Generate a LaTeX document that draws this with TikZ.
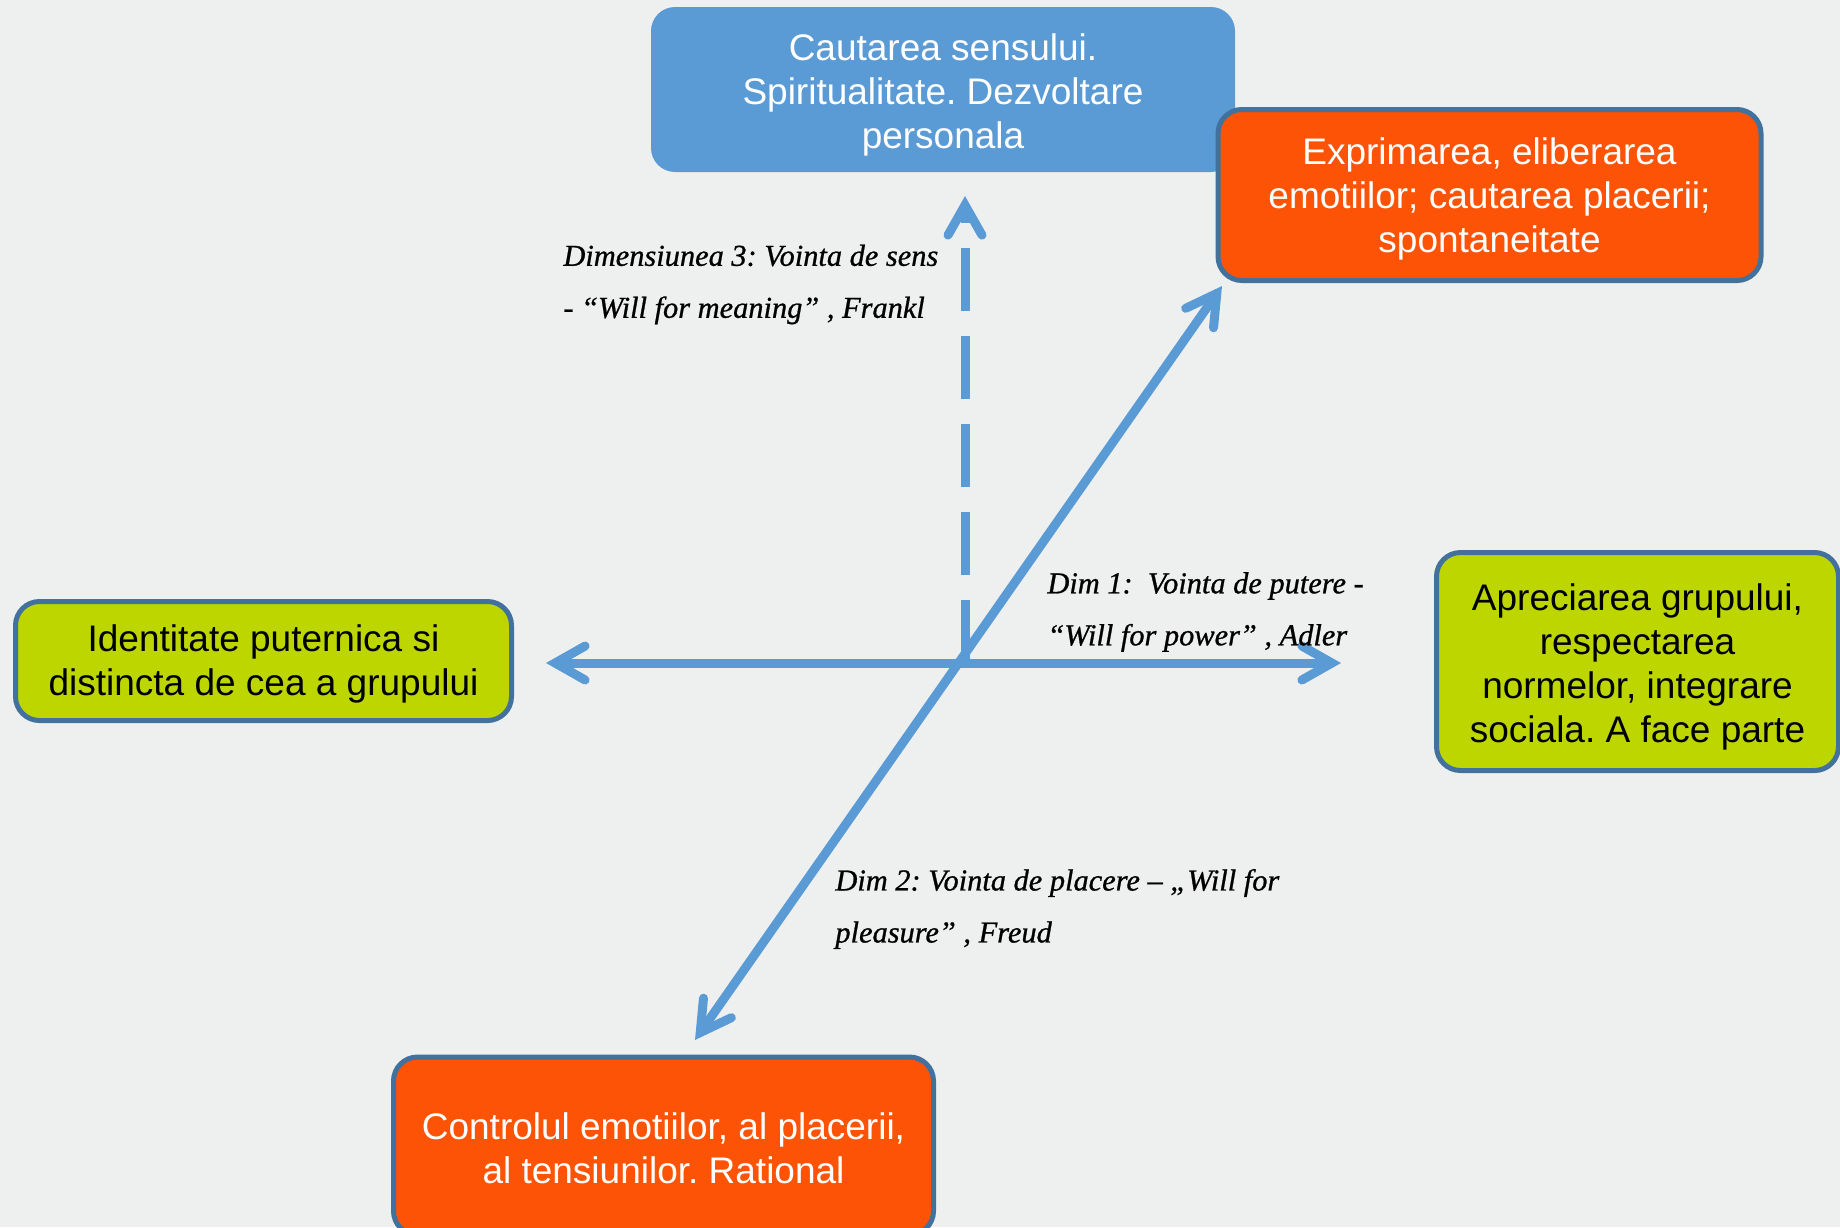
\documentclass[tikz,border=0pt]{standalone}
\usepackage{fontspec}
\setmainfont{Liberation Sans}
\newfontfamily\lblfont[FakeBold=0.8]{Liberation Serif}
\usetikzlibrary{arrows.meta}
\definecolor{bg}{HTML}{EEF0EF}
\definecolor{axisblue}{HTML}{5B9BD5}
\definecolor{boxblue}{HTML}{5B9BD5}
\definecolor{boxorange}{HTML}{FC5306}
\definecolor{boxgreen}{HTML}{BED600}
\definecolor{edgeblue}{HTML}{41719C}
\frenchspacing
\begin{document}
\begin{tikzpicture}[x=0.5pt,y=-0.5pt,
  box/.style={rounded corners=12pt, inner sep=0pt},
  orangebox/.style={box, fill=boxorange, draw=edgeblue, line width=2.5pt},
  greenbox/.style={box, fill=boxgreen, draw=edgeblue, line width=2.5pt},
  bluebox/.style={box, fill=boxblue},
  boxtext/.style={align=center, inner sep=0pt, font=\frenchspacing\fontsize{18.5}{22}\selectfont},
  whitetext/.style={boxtext, text=white},
  blacktext/.style={boxtext, text=black},
  axisline/.style={draw=axisblue, line width=4.5pt},
  tip/.tip={Straight Barb[length=15pt,width=17pt,line cap=round,line join=miter]},
  dashaxis/.style={axisline, dash pattern=on 31.5pt off 12.5pt},
  lbl/.style={align=left, anchor=west, inner sep=0pt, font=\frenchspacing\lblfont\itshape\fontsize{15.2}{26}\selectfont}
]
\fill[bg] (0,0) rectangle (1840,1227);
\useasboundingbox (0,0) rectangle (1840,1227);
\clip (0,0) rectangle (1840,1227);

% boxes
\node[bluebox, minimum width=292pt, minimum height=82.5pt] (meaning) at (943,89.5) {};
\node[orangebox, minimum width=271.5pt, minimum height=85.5pt] (express) at (1489.5,195) {};
\node[greenbox, minimum width=201pt, minimum height=109pt] (group) at (1637.5,661.5) {};
\node[greenbox, minimum width=248pt, minimum height=59.5pt] (identity) at (263.5,661) {};
\node[orangebox, minimum width=270pt, minimum height=89pt] (control) at (663.5,1146) {};

% box texts
\node[whitetext] (meaningtext) at ([yshift=-2.5pt]meaning.center)
  {Cautarea sensului.\\Spiritualitate. Dezvoltare\\personala};
\node[whitetext] (expresstext) at ([yshift=-2pt]express.center)
  {Exprimarea, eliberarea\\emotiilor; cautarea placerii;\\spontaneitate};
\node[blacktext] (grouptext) at ([yshift=-2.5pt]group.center)
  {Apreciarea grupului,\\respectarea\\normelor, integrare\\sociala. A face parte};
\node[blacktext] (identitytext) at ([yshift=-1.5pt]identity.center)
  {Identitate puternica si\\distincta de cea a grupului};
\node[whitetext] (controltext) at ([yshift=-1pt]control.center)
  {Controlul emotiilor, al placerii,\\al tensiunilor. Rational};

% axis end points
\coordinate (center) at (965,663);
\coordinate (lefttip) at (546,663);
\coordinate (righttip) at (1341,663);
\coordinate (uptip) at (965,196);
\coordinate (downtip) at (695,1040);
\coordinate (diagtip) at (1222,286);

% axes
\draw[axisline, tip-tip] (lefttip) -- (righttip);
\draw[axisline, tip-tip] (downtip) -- (diagtip);
\draw[dashaxis, -tip] (center) -- (uptip);

% labels
\node[lbl] (dim3) at (563,284.5) {Dimensiunea 3: Vointa de sens\\- “Will for meaning” , Frankl};
\node[lbl] (dim1) at (1047,612) {Dim 1:\ \ Vointa de putere -\\“Will for power” , Adler};
\node[lbl] (dim2) at (835,909) {Dim 2: Vointa de placere – „Will for\\pleasure” , Freud};
\end{tikzpicture}
\end{document}
